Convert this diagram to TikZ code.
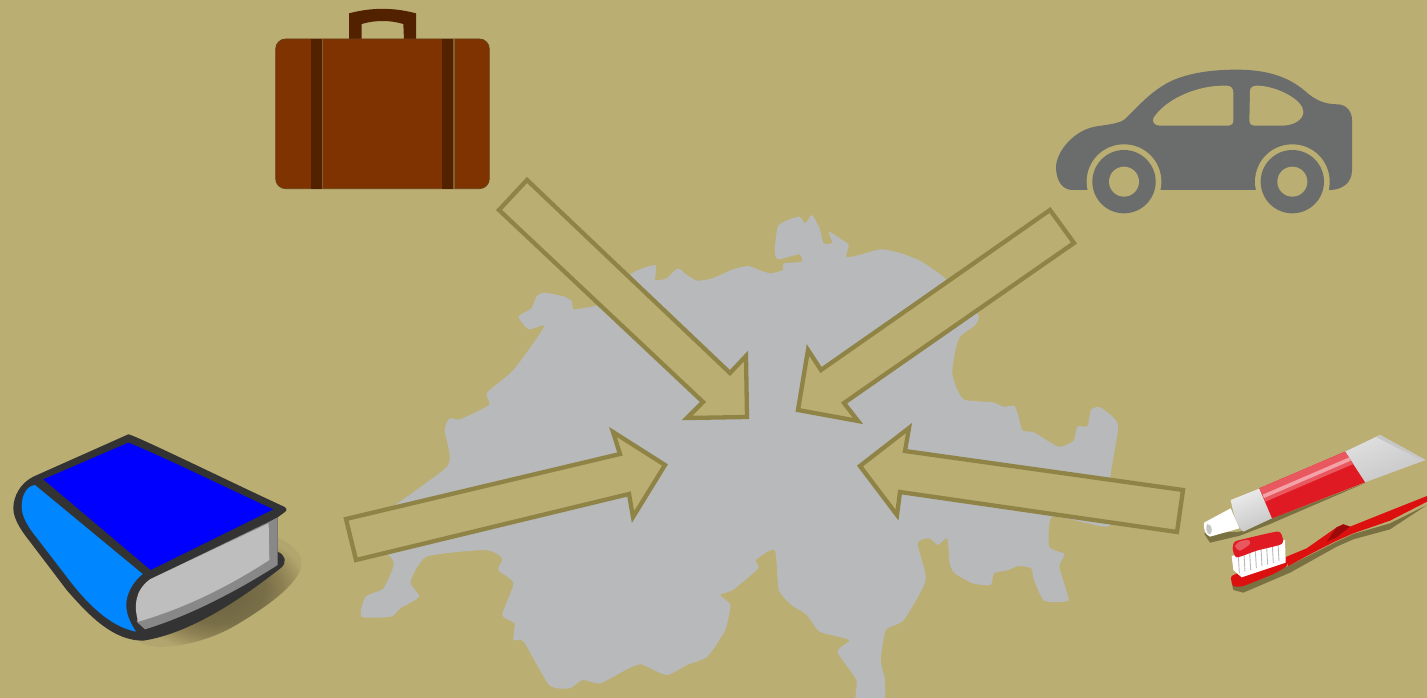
\documentclass[tikz,border=0pt]{standalone}
\definecolor{bg}{HTML}{BBAE73}
\definecolor{mapgray}{HTML}{B7B9BB}
\definecolor{arrowline}{HTML}{8F8345}
\definecolor{cargray}{HTML}{6B6D6C}
\definecolor{caseb}{HTML}{7F3300}
\definecolor{strap}{HTML}{522200}
\definecolor{bookdark}{HTML}{333333}
\definecolor{spineblue}{HTML}{0087FF}
\definecolor{pagegray}{HTML}{BEBEBE}
\definecolor{pagedark}{HTML}{888888}
\definecolor{tubered}{HTML}{E01A22}
\definecolor{tubepink}{HTML}{E9575F}
\definecolor{brushred}{HTML}{DD1010}
\definecolor{pshadow}{HTML}{7A7142}
\pgfdeclareradialshading{blobshade}{\pgfpoint{0bp}{0bp}}{rgb(0bp)=(0.42,0.39,0.25); rgb(14bp)=(0.47,0.43,0.28); rgb(20bp)=(0.56,0.51,0.33); rgb(27bp)=(0.70,0.65,0.43); rgb(50bp)=(0.70,0.65,0.43)}
\tikzset{
  bigarrow/.style={fill=bg,draw=arrowline,line width=4.3pt,miter limit=10,line join=miter},
  sm/.style={smooth cycle,tension=0.45}
}
\begin{document}
\begin{tikzpicture}[x=1pt,y=-1pt]
\useasboundingbox (0,0) rectangle (1427,698);
\fill[bg] (0,0) rectangle (1427,698);
% map
\begin{scope}[shift={(340,200)},x=0.5102pt,y=-0.33333pt]
\fill[mapgray] plot[smooth cycle,tension=0.35] coordinates {
(400,278)(440,290)(455,305)(458,328)(500,318)(530,310)(570,222)(618,195)(618,240)(640,235)(662,205)(680,225)(700,242)(730,235)(770,208)(800,198)(825,212)(845,220)(868,210)(870,190)(905,185)(900,163)(858,178)(852,150)(858,80)(875,62)(900,50)(912,70)(925,45)(940,85)(948,130)(965,128)(958,95)(985,120)(997,135)(992,170)(1010,168)(1060,148)(1100,160)(1140,185)(1190,240)(1250,340)(1245,375)(1215,410)(1205,460)(1200,520)(1210,570)(1225,600)(1280,607)(1300,620)(1322,618)(1330,650)(1338,692)(1360,697)(1408,740)(1438,722)(1445,680)(1465,678)(1472,630)(1490,622)(1525,675)(1510,830)(1510,975)(1460,968)(1395,950)(1390,1040)(1420,1062)(1410,1100)(1428,1195)(1420,1205)(1380,1202)(1360,1140)(1355,1105)(1330,1098)(1310,1110)(1282,1120)(1275,1155)(1240,1150)(1205,1120)(1195,1090)(1190,1015)(1172,1035)(1155,1015)(1132,1030)(1148,1140)(1105,1260)(1070,1290)(1060,1380)(1068,1440)(1065,1500)(1012,1500)(1012,1440)(975,1355)(998,1320)(940,1295)(915,1245)(885,1215)(860,1170)(852,1050)(815,1080)(820,1105)(770,1170)(745,1185)(765,1215)(755,1290)(720,1370)(680,1395)(640,1425)(590,1393)(560,1410)(510,1450)(475,1440)(450,1465)(410,1455)(360,1325)(340,1320)(342,1270)(318,1245)(340,1150)(310,1110)(318,1075)(285,1050)(170,1070)(138,1145)(155,1190)(118,1225)(100,1250)(42,1250)(50,1190)(85,1165)(105,1085)(60,1000)(105,920)(212,795)(205,690)(215,655)(235,658)(292,615)(288,578)(340,510)(400,380)(370,388)(350,350)(375,325)(385,290)};
\end{scope}
% arrows
\draw[bigarrow] (527,180)--(730,373)--(746,356)--(747,417)--(687,418)--(703,402)--(499,210)--cycle;
\draw[bigarrow] (1050,210)--(821,370)--(808,350)--(798,410)--(858,421)--(844,403)--(1074,243)--cycle;
\draw[bigarrow] (346,519)--(620,454)--(613,432)--(665,465)--(633,517)--(629,494)--(356,560)--cycle;
\draw[bigarrow] (1183,490)--(905,451)--(909,428)--(860,466)--(897,515)--(900,492)--(1177,532)--cycle;
% suitcase
\begin{scope}[shift={(265,0)},x=0.33333pt,y=-0.33333pt]
\fill[strap] (252,120)--(252,40) .. controls (320,22) and (385,22) .. (453,40)--(453,120)--(417,120)--(415,72) .. controls (375,60) and (330,60) .. (290,72)--(290,120)--cycle;
\draw[fill=caseb,draw=strap!80!bg,line width=0.8pt,rounded corners=10pt] (32,117) rectangle (673,566);
\fill[strap] (138,117) rectangle (170,566);
\fill[strap] (532,117) rectangle (565,566);
\fill[strap!55!bg] (170,117) rectangle (174,566);
\fill[strap!55!bg] (565,117) rectangle (569,566);
\end{scope}
% car
\begin{scope}[shift={(1040,55)},x=0.33333pt,y=-0.33333pt]
\fill[cargray] (140,405)--(95,405) .. controls (65,403) and (48,375) .. (48,335) .. controls (50,290) and (100,225) .. (170,214) .. controls (210,208) and (240,205) .. (255,192) .. controls (290,160) and (320,120) .. (380,85) .. controls (430,58) and (500,44) .. (590,44) .. controls (680,44) and (745,65) .. (795,108) .. controls (830,140) and (860,148) .. (895,148) .. controls (920,150) and (936,170) .. (936,195)--(936,345) .. controls (936,385) and (905,405) .. (868,405)--cycle;
\fill[bg] (340,190) .. controls (370,140) and (460,90) .. (560,92) .. controls (572,92) and (580,100) .. (580,112)--(580,195) .. controls (580,206) and (574,212) .. (566,212)--(360,212) .. controls (345,212) and (336,202) .. (340,190)--cycle;
\fill[bg] (630,108) .. controls (630,98) and (638,92) .. (650,92) .. controls (710,92) and (790,135) .. (790,170) .. controls (790,195) and (760,212) .. (725,212)--(642,212) .. controls (634,212) and (628,206) .. (628,198)--cycle;
\foreach \cx in {252,757}{
  \fill[bg] (\cx,380) circle (112);
  \fill[cargray] (\cx,380) circle (95);
  \fill[bg] (\cx,380) circle (45);
}
\end{scope}
% book
\begin{scope}[shift={(0,420)},x=0.33333pt,y=-0.33333pt]
\shade[shading=blobshade] (800,340) .. controls (850,355) and (905,390) .. (905,430) .. controls (905,480) and (820,550) .. (700,620) .. controls (620,665) and (520,685) .. (470,680) .. controls (430,676) and (410,665) .. (400,650) -- (560,500) -- cycle;
\fill[bookdark] (100,170)--(385,43) .. controls (400,43) and (700,190) .. (852,260) .. controls (862,265) and (862,272) .. (852,278)--(833,292)--(833,395) .. controls (855,405) and (862,425) .. (845,442) .. controls (720,540) and (570,640) .. (430,662) .. controls (340,662) and (270,590) .. (200,510)--(90,365) .. controls (70,340) and (40,300) .. (40,265) .. controls (40,230) and (60,190) .. (100,170)--cycle;
\fill[spineblue] (105,195) .. controls (80,198) and (65,225) .. (65,260) .. controls (65,290) and (85,320) .. (100,340)--(200,470) .. controls (260,550) and (330,620) .. (408,635) .. controls (385,600) and (375,570) .. (380,540) .. controls (385,510) and (405,480) .. (428,462)--cycle;
\fill[pagedark] (808,305)--(833,292)--(833,435) .. controls (700,520) and (560,590) .. (435,628)--(410,605)--(450,478)--cycle;
\fill[pagegray] (450,478)--(806,310)--(808,420) .. controls (700,490) and (570,560) .. (415,605) .. controls (400,560) and (405,510) .. (450,478)--cycle;
\fill[blue] (130,178)--(385,68) .. controls (500,115) and (650,190) .. (820,268)--(452,450)--cycle;
\end{scope}
% toothpaste and brush
\begin{scope}[shift={(1190,420)},x=0.33333pt,y=-0.33333pt]
% shadows
\fill[pshadow] (42,340)--(150,335)--(245,295)--(530,187)--(240,312)--(150,347)--(60,368)--cycle;
\fill[pshadow] (125,490)--(290,440)--(400,385)--(440,365)--(490,342)--(600,310)--(711,255)--(600,328)--(490,358)--(440,380)--(300,458)--(160,518)--(130,510)--cycle;
% tube
\shade[top color=gray!25!white,middle color=white,bottom color=gray!45!white,shading angle=23] (465,95)--(570,45)--(707,120)--(525,187)--cycle;
\fill[gray!45!white] (570,45)--(707,120)--(690,118)--(560,52)--cycle;
\shade[top color=gray!15!white,middle color=white,bottom color=gray!45!white,shading angle=23] (122,240)--(210,205)--(250,293)--(160,335) .. controls (140,320) and (130,280) .. (122,240)--cycle;
\fill[tubered] (208,205)--(465,95)--(525,187)--(246,295)--cycle;
\fill[tubepink] (208,205)--(465,95)--(490,132)--(226,245)--cycle;
\fill[tubepink!55!white] (218,224)--(478,112)--(482,122)--(222,234)--cycle;
\fill[white] (42,308)--(122,265)--(148,325)--(60,350) .. controls (45,345) and (40,325) .. (42,308)--cycle;
\fill[gray!45] (52,312) .. controls (45,322) and (50,342) .. (60,344) .. controls (70,335) and (66,312) .. (52,312)--cycle;
% brush handle
\fill[brushred] (285,412)--(350,385)--(400,350)--(440,322)--(460,313)--(480,320)--(600,272)--(711,228)--(711,245)--(600,302)--(490,340)--(440,362)--(400,382)--(350,408)--(295,438)--cycle;
\fill[brushred!70!black] (440,322)--(460,313)--(480,320)--(440,352)--(410,365)--cycle;
% head
\fill[brushred] plot[smooth cycle,tension=0.3] coordinates {(125,468)(200,440)(288,418)(290,438)(250,462)(160,498)(130,498)};
% bristles
\fill[white] (125,408)--(285,360)--(287,428)--(155,472)--(130,450)--cycle;
\foreach \bx/\by in {145/402,162/397,179/392,196/386,213/381,230/376,247/371,264/366}
  \draw[gray!55,line width=0.9pt] (\bx,\by+5)--(\bx+3,\by+58);
% paste
\fill[tubered] plot[smooth cycle,tension=0.4] coordinates {(128,385)(135,365)(170,355)(260,335)(275,345)(275,372)(200,392)(140,412)};
\fill[tubepink] plot[smooth cycle,tension=0.4] coordinates {(135,378)(150,364)(175,360)(180,372)(150,392)};
\end{scope}
\end{tikzpicture}
\end{document}
